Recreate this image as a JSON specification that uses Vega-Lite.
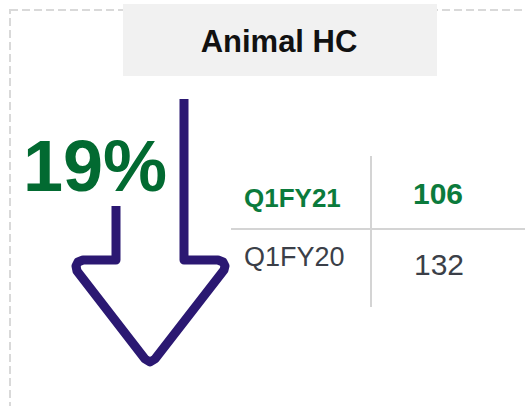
{
  "$schema": "https://vega.github.io/schema/vega-lite/v6.json",
  "width": 525,
  "height": 406,
  "padding": 0,
  "autosize": {"type": "fit", "contains": "padding"},
  "background": "white",
  "config": {"view": {"stroke": null}},
  "datasets": {
    "frame": [{"x": 10, "x2": 560, "y": 10, "y2": 440}],
    "header": [{"x": 123, "x2": 437, "y": 4, "y2": 76, "label": "Animal HC", "cx": 279, "cy": 52}],
    "arrow": [
      {"i": 1, "x": 184, "y": 99},
      {"i": 2, "x": 184, "y": 260},
      {"i": 3, "x": 218, "y": 260},
      {"i": 4, "x": 223, "y": 262},
      {"i": 5, "x": 225, "y": 266},
      {"i": 6, "x": 224, "y": 270},
      {"i": 7, "x": 155, "y": 359},
      {"i": 8, "x": 150, "y": 362},
      {"i": 9, "x": 145, "y": 359},
      {"i": 10, "x": 77, "y": 271},
      {"i": 11, "x": 76, "y": 266},
      {"i": 12, "x": 78, "y": 262},
      {"i": 13, "x": 83, "y": 260},
      {"i": 14, "x": 116, "y": 260},
      {"i": 15, "x": 116, "y": 206}
    ],
    "change": [{"label": "19%", "x": 23, "y": 191}],
    "grid": [
      {"x": 371, "x2": 371, "y": 156, "y2": 307},
      {"x": 231, "x2": 530, "y": 229, "y2": 229}
    ],
    "table": [
      {"period": "Q1FY21", "hc": 106, "current": true, "lx": 244, "ly": 207, "vx": 438, "vy": 204},
      {"period": "Q1FY20", "hc": 132, "current": false, "lx": 244, "ly": 266, "vx": 439, "vy": 275}
    ]
  },
  "layer": [
    {
      "data": {"name": "frame"},
      "mark": {"type": "rect", "fillOpacity": 0, "stroke": "#d9d9d9", "strokeWidth": 2, "strokeDash": [8, 4], "clip": true},
      "encoding": {
        "x": {"field": "x", "type": "quantitative", "scale": {"domain": [0, 525], "nice": false, "zero": false}, "axis": null},
        "x2": {"field": "x2"},
        "y": {"field": "y", "type": "quantitative", "scale": {"domain": [0, 406], "nice": false, "zero": false, "reverse": true}, "axis": null},
        "y2": {"field": "y2"}
      }
    },
    {
      "data": {"name": "header"},
      "mark": {"type": "rect", "fill": "#f1f1f1"},
      "encoding": {
        "x": {"field": "x", "type": "quantitative", "axis": null},
        "x2": {"field": "x2"},
        "y": {"field": "y", "type": "quantitative", "axis": null},
        "y2": {"field": "y2"}
      }
    },
    {
      "data": {"name": "header"},
      "mark": {"type": "text", "font": "Liberation Sans", "fontWeight": "bold", "fontSize": 31, "fill": "#111111", "align": "center", "baseline": "alphabetic"},
      "encoding": {
        "x": {"field": "cx", "type": "quantitative", "axis": null},
        "y": {"field": "cy", "type": "quantitative", "axis": null},
        "text": {"field": "label"}
      }
    },
    {
      "data": {"name": "arrow"},
      "mark": {"type": "line", "stroke": "#2b1872", "strokeWidth": 9, "strokeJoin": "round", "strokeCap": "butt"},
      "encoding": {
        "x": {"field": "x", "type": "quantitative", "axis": null},
        "y": {"field": "y", "type": "quantitative", "axis": null},
        "order": {"field": "i", "type": "quantitative"}
      }
    },
    {
      "data": {"name": "change"},
      "mark": {"type": "text", "font": "Liberation Sans", "fontWeight": "bold", "fontSize": 72, "fill": "#026a31", "align": "left", "baseline": "alphabetic"},
      "encoding": {
        "x": {"field": "x", "type": "quantitative", "axis": null},
        "y": {"field": "y", "type": "quantitative", "axis": null},
        "text": {"field": "label"}
      }
    },
    {
      "data": {"name": "grid"},
      "mark": {"type": "rule", "stroke": "#d4d4d4", "strokeWidth": 2, "clip": true},
      "encoding": {
        "x": {"field": "x", "type": "quantitative", "axis": null},
        "x2": {"field": "x2"},
        "y": {"field": "y", "type": "quantitative", "axis": null},
        "y2": {"field": "y2"}
      }
    },
    {
      "data": {"name": "table"},
      "transform": [{"filter": "datum.current"}],
      "mark": {"type": "text", "font": "Liberation Sans", "fontWeight": "bold", "fontSize": 26, "fill": "#0b7b3c", "align": "left", "baseline": "alphabetic"},
      "encoding": {
        "x": {"field": "lx", "type": "quantitative", "axis": null},
        "y": {"field": "ly", "type": "quantitative", "axis": null},
        "text": {"field": "period"}
      }
    },
    {
      "data": {"name": "table"},
      "transform": [{"filter": "datum.current"}],
      "mark": {"type": "text", "font": "Liberation Sans", "fontWeight": "bold", "fontSize": 30, "fill": "#0b7b3c", "align": "center", "baseline": "alphabetic"},
      "encoding": {
        "x": {"field": "vx", "type": "quantitative", "axis": null},
        "y": {"field": "vy", "type": "quantitative", "axis": null},
        "text": {"field": "hc", "type": "quantitative"}
      }
    },
    {
      "data": {"name": "table"},
      "transform": [{"filter": "!datum.current"}],
      "mark": {"type": "text", "font": "Liberation Sans", "fontSize": 27, "fill": "#3b3f48", "align": "left", "baseline": "alphabetic"},
      "encoding": {
        "x": {"field": "lx", "type": "quantitative", "axis": null},
        "y": {"field": "ly", "type": "quantitative", "axis": null},
        "text": {"field": "period"}
      }
    },
    {
      "data": {"name": "table"},
      "transform": [{"filter": "!datum.current"}],
      "mark": {"type": "text", "font": "Liberation Sans", "fontSize": 30, "fill": "#3b3f48", "align": "center", "baseline": "alphabetic"},
      "encoding": {
        "x": {"field": "vx", "type": "quantitative", "axis": null},
        "y": {"field": "vy", "type": "quantitative", "axis": null},
        "text": {"field": "hc", "type": "quantitative"}
      }
    }
  ]
}
